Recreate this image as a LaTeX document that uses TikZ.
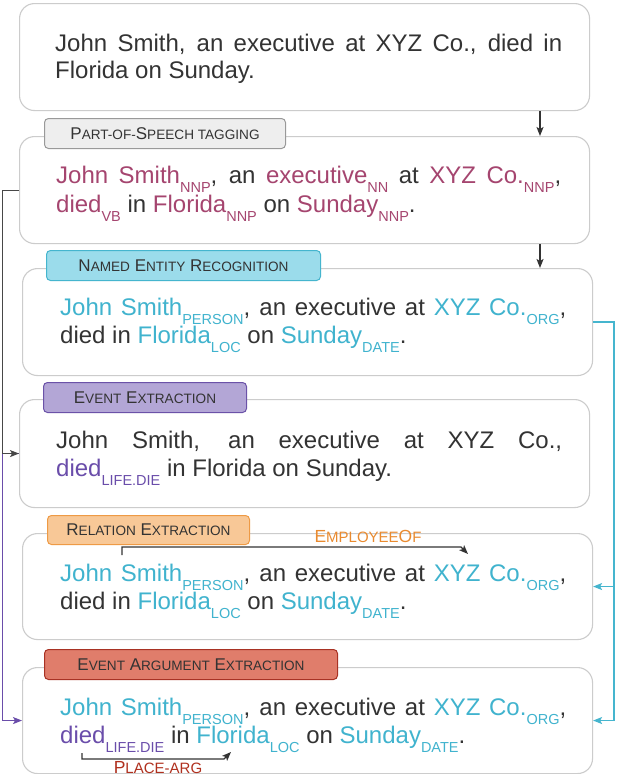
\documentclass[tikz,border=0pt]{standalone}
\usepackage{fontspec}
\setmainfont{Liberation Sans}
\usetikzlibrary{arrows.meta,calc}
\definecolor{tcol}{HTML}{333333}
\definecolor{boxline}{HTML}{CCCCCC}
\definecolor{poscol}{HTML}{A5456F}
\definecolor{nercol}{HTML}{40B3CE}
\definecolor{evcol}{HTML}{6A4DAA}
\definecolor{orcol}{HTML}{E98A2F}
\definecolor{redcol}{HTML}{B0301E}
\definecolor{posfill}{HTML}{EEEEEE}
\definecolor{posdraw}{HTML}{999999}
\definecolor{nerfill}{HTML}{9BDCEB}
\definecolor{nerdraw}{HTML}{45B5CE}
\definecolor{evfill}{HTML}{B3A6D6}
\definecolor{evdraw}{HTML}{6B52A8}
\definecolor{relfill}{HTML}{F8C897}
\definecolor{reldraw}{HTML}{EE9A45}
\definecolor{eaefill}{HTML}{E07D6B}
\definecolor{eaedraw}{HTML}{A83224}
\newcommand{\sbs}[1]{\raisebox{-9.5pt}{\fontsize{14.5}{15}\selectfont #1}}
\newcommand{\fsc}[1]{{\fontsize{13.6}{14}\selectfont #1}}
\newcommand{\fscb}[1]{{\fontsize{15}{16}\selectfont #1}}
\newcommand{\pc}[1]{\textcolor{poscol}{#1}}
\newcommand{\nc}[1]{\textcolor{nercol}{#1}}
\newcommand{\ec}[1]{\textcolor{evcol}{#1}}
\tikzset{
  bigbox/.style={draw=boxline, line width=1.1pt, fill=white, rounded corners=15pt,
    minimum width=570pt, anchor=north west, inner sep=0pt},
  tab/.style={rounded corners=4pt, line width=1pt, anchor=north west, inner sep=0pt,
    text=tcol, font=\fontsize{17}{18}\selectfont},
  txt/.style={inner sep=0pt, anchor=base west, text=tcol, font=\fontsize{24}{28}\selectfont},
  lbl/.style={inner sep=0pt, anchor=base, font=\fontsize{17.5}{18}\selectfont},
  darr/.style={draw=tcol, line width=1.1pt, -{Stealth[length=9pt,width=7pt,inset=2pt]}},
  garr/.style={draw=tcol!90, line width=1pt, -{Stealth[length=9pt,width=7pt,inset=2pt]}},
  parr/.style={draw=evcol, line width=1pt, -{Stealth[length=9pt,width=7pt,inset=2pt]}},
  carr/.style={draw=nerdraw, line width=1.2pt, -{Stealth[length=9pt,width=7pt,inset=2pt]}},
}
\begin{document}
\begin{tikzpicture}[x=1pt,y=-1pt]
\fill[white] (0,0) rectangle (616,774);
\useasboundingbox (0,0) rectangle (616,774);

% boxes
\node[bigbox, minimum height=107pt] (top) at (19,3) {};
\node[bigbox, minimum height=107pt] (pos) at (19,136) {};
\node[bigbox, minimum height=107pt] (ner) at (22,268) {};
\node[bigbox, minimum height=108pt] (event) at (19,399) {};
\node[bigbox, minimum height=106pt] (rel) at (22,533) {};
\node[bigbox, minimum height=106pt] (eae) at (22,667) {};

% tabs
\node[tab, fill=posfill, draw=posdraw, minimum width=241pt, minimum height=30pt] (tpos) at (44,118) {P\fsc{ART-OF-}S\fsc{PEECH TAGGING}};
\node[tab, fill=nerfill, draw=nerdraw, minimum width=274pt, minimum height=30pt] (tner) at (46,250) {N\fsc{AMED} E\fsc{NTITY} R\fsc{ECOGNITION}};
\node[tab, fill=evfill, draw=evdraw, minimum width=203pt, minimum height=30pt] (tev) at (43,382) {E\fsc{VENT} E\fsc{XTRACTION}};
\node[tab, fill=relfill, draw=reldraw, minimum width=202pt, minimum height=29pt] (trel) at (47,515) {R\fsc{ELATION} E\fsc{XTRACTION}};
\node[tab, fill=eaefill, draw=eaedraw, minimum width=293pt, minimum height=30pt] (teae) at (44,649) {E\fsc{VENT} A\fsc{RGUMENT} E\fsc{XTRACTION}};

% texts
\node[txt] (t1) at (55,51) {\makebox[507pt][s]{John Smith, an executive at XYZ Co., died in}};
\node[txt] (t2) at (55,78) {Florida on Sunday.};

\node[txt] (p1) at (56,183) {\makebox[505pt][s]{\pc{John Smith\sbs{NNP}}, an \pc{executive\sbs{NN}} at \pc{XYZ Co.\sbs{NNP}},}};
\node[txt] (p2) at (56,212) {\pc{died\sbs{VB}} in \pc{Florida\sbs{NNP}} on \pc{Sunday\sbs{NNP}}.};

\node[txt] (n1) at (60,315) {\makebox[506pt][s]{\nc{John Smith\sbs{PERSON}}, an executive at \nc{XYZ Co.\sbs{ORG}},}};
\node[txt] (n2) at (60,343) {died in \nc{Florida\sbs{LOC}} on \nc{Sunday\sbs{DATE}}.};

\node[txt] (e1) at (56,448) {\makebox[506pt][s]{John Smith, an executive at XYZ Co.,}};
\node[txt] (e2) at (56,476) {\ec{died\sbs{LIFE.DIE}} in Florida on Sunday.};

\node[txt] (r1) at (60,581) {\makebox[506pt][s]{\nc{John Smith\sbs{PERSON}}, an executive at \nc{XYZ Co.\sbs{ORG}},}};
\node[txt] (r2) at (60,609) {died in \nc{Florida\sbs{LOC}} on \nc{Sunday\sbs{DATE}}.};

\node[txt] (a1) at (60,715) {\makebox[506pt][s]{\nc{John Smith\sbs{PERSON}}, an executive at \nc{XYZ Co.\sbs{ORG}},}};
\node[txt] (a2) at (60,743) {\ec{died\sbs{LIFE.DIE}} in \nc{Florida\sbs{LOC}} on \nc{Sunday\sbs{DATE}}.};

% labels
\node[lbl, text=orcol] (emp) at (368,542) {E\fscb{MPLOYEE}O\fscb{F}};
\node[lbl, text=redcol] (parg) at (158,773) {P\fscb{LACE-ARG}};

% relation arcs
\coordinate (rs) at (122,555);
\coordinate (re) at (468,554);
\draw[darr] (rs) -- ++(0,-8) -- (461,547) -- (re);
\coordinate (ps) at (82,753);
\coordinate (pe) at (231,752);
\draw[darr] (ps) -- ++(0,6) -- (224,759) -- (pe);

% pipeline connectors
\coordinate (ac) at (540,0);
\draw[darr] (top.south -| ac) -- (pos.north -| ac);
\draw[darr] (pos.south -| ac) -- (ner.north -| ac);

\coordinate (lx) at (2,0);
\coordinate (rx) at (614,0);
\draw[parr] (event.west) -- (event.west -| lx) |- (eae.west);
\draw[garr] (pos.west) -- (pos.west -| lx) |- (event.west);
\draw[carr] (ner.east) -- (ner.east -| rx) |- (rel.east);
\draw[carr] (ner.east -| rx) |- (eae.east);
\end{tikzpicture}
\end{document}
